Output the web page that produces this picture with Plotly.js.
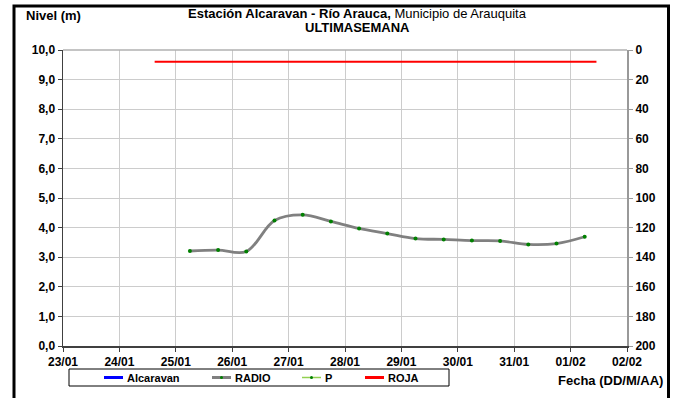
<!DOCTYPE html>
<html>
<head>
<meta charset="utf-8">
<script src="https://cdn.plot.ly/plotly-3.0.1.min.js"></script>
<style>html,body{margin:0;padding:0;background:#fff;}#chart{width:674px;height:398px;}</style>
</head>
<body>
<div id="chart"></div>
<script>
// Data
const fechasRadio = ['2024-01-25 06:00','2024-01-25 18:00','2024-01-26 06:00','2024-01-26 18:00','2024-01-27 06:00','2024-01-27 18:00','2024-01-28 06:00','2024-01-28 18:00','2024-01-29 06:00','2024-01-29 18:00','2024-01-30 06:00','2024-01-30 18:00','2024-01-31 06:00','2024-01-31 18:00','2024-02-01 06:00'];
const nivelRadio = [3.21,3.24,3.19,4.24,4.43,4.21,3.97,3.80,3.63,3.60,3.56,3.55,3.43,3.46,3.69];
const fechasRoja = ['2024-01-24 15:00','2024-02-01 11:00'];
const nivelRoja = [9.6,9.6];
const fechasAlcaravan = [null];
const nivelAlcaravan = [null];
const fechasP = [null];
const valoresP = [null];
const nombres = ['Alcaravan','RADIO','P','ROJA'];
const colores = ['#0000ff','#808080','#92d050','#ff0000'];

const FONT = 'Liberation Sans, Arial, sans-serif';
const L = 63, R = 47, T = 50, B = 52, W = 674, H = 398;
const pw = W - L - R, ph = H - T - B;
const px = v => (v - L) / pw;
const py = v => (H - B - v) / ph;

const traces = [
  {x: fechasAlcaravan, y: nivelAlcaravan, name: nombres[0], mode: 'lines', line: {color: colores[0], width: 3}, yaxis: 'y'},
  {x: fechasRadio, y: nivelRadio, name: nombres[1], mode: 'lines+markers', line: {color: colores[1], width: 2.8, shape: 'spline', smoothing: 1}, marker: {color: '#008000', size: 4}, yaxis: 'y'},
  {x: fechasP, y: valoresP, name: nombres[2], mode: 'lines+markers', line: {color: colores[2], width: 1.5}, marker: {color: '#008000', size: 4}, yaxis: 'y2'},
  {x: fechasRoja, y: nivelRoja, name: nombres[3], mode: 'lines', line: {color: colores[3], width: 2}, yaxis: 'y'}
];

// custom legend (box, symbols, labels)
const legShapes = [
  {type: 'rect', xref: 'paper', yref: 'paper', x0: px(69), x1: px(449), y0: py(369), y1: py(386), line: {color: '#000', width: 1}, fillcolor: '#fff'}
];
const legAnn = [];
const legX = [104, 212, 302, 365];
const legY = 377.5;
nombres.forEach((n, i) => {
  legShapes.push({type: 'line', xref: 'paper', yref: 'paper', x0: px(legX[i]), x1: px(legX[i] + 19), y0: py(legY), y1: py(legY),
    line: {color: colores[i], width: i === 2 ? 1.5 : 3}});
  if (i === 1 || i === 2) {
    legShapes.push({type: 'circle', xref: 'paper', yref: 'paper', x0: px(legX[i] + 8), x1: px(legX[i] + 11), y0: py(legY - 1.5), y1: py(legY + 1.5),
      line: {color: '#008000', width: 0}, fillcolor: '#008000'});
  }
  legAnn.push({xref: 'paper', yref: 'paper', x: px(legX[i] + 21), y: py(legY), xanchor: 'left', yanchor: 'middle', showarrow: false,
    text: '<b>' + n + '</b>', font: {family: FONT, size: 11, color: '#000'}});
});

const tickFont = {family: FONT, size: 12, color: '#000', weight: 'bold'};

const layout = {
  width: W, height: H,
  margin: {l: L, r: R, t: T, b: B, pad: 0, autoexpand: false},
  paper_bgcolor: '#fff', plot_bgcolor: '#fff',
  separators: ',.',
  font: {family: FONT, size: 12, color: '#000'},
  showlegend: false,
  xaxis: {type: 'date', range: ['2024-01-23', '2024-02-02'], dtick: 86400000, tick0: '2024-01-23',
    tickformat: '%d/%m', showgrid: true, gridcolor: '#cccccc', gridwidth: 1,
    showline: true, linecolor: '#404040', linewidth: 1.5, ticks: 'outside', ticklen: 4, tickcolor: '#404040',
    tickfont: tickFont, zeroline: false},
  yaxis: {range: [0, 10], dtick: 1, tickformat: '.1f', showgrid: true, gridcolor: '#cccccc',
    showline: true, linecolor: '#404040', linewidth: 1.5, ticks: 'outside', ticklen: 4, tickcolor: '#404040',
    tickfont: tickFont, zeroline: false},
  yaxis2: {overlaying: 'y', side: 'right', anchor: 'x', range: [200, 0], dtick: 20, showgrid: false,
    showline: true, linecolor: '#999999', linewidth: 2, ticks: 'outside', ticklen: 4, tickcolor: '#999999',
    tickfont: tickFont, zeroline: false},
  shapes: [
    {type: 'line', xref: 'paper', yref: 'paper', x0: 0, x1: 1, y0: 1, y1: 1, line: {color: '#b0b0b0', width: 1.5}},
    {type: 'rect', xref: 'paper', yref: 'paper', x0: px(14), x1: px(668.5), y0: py(6), y1: py(410), line: {color: '#000', width: 3}}
  ].concat(legShapes),
  annotations: [
    {xref: 'paper', yref: 'paper', x: px(357), y: py(13), xanchor: 'center', yanchor: 'middle', showarrow: false,
     text: '<b>Estación Alcaravan - Río Arauca,</b> Municipio de Arauquita', font: {family: FONT, size: 13, color: '#000'}},
    {xref: 'paper', yref: 'paper', x: px(357), y: py(28), xanchor: 'center', yanchor: 'middle', showarrow: false,
     text: '<b>ULTIMASEMANA</b>', font: {family: FONT, size: 13, color: '#000'}},
    {xref: 'paper', yref: 'paper', x: px(24), y: py(16), xanchor: 'left', yanchor: 'middle', showarrow: false,
     text: '<b>Nivel (m)</b>', font: {family: FONT, size: 13, color: '#000'}},
    {xref: 'paper', yref: 'paper', x: px(665), y: py(380), xanchor: 'right', yanchor: 'middle', showarrow: false,
     text: '<b>Fecha (DD/M/AA)</b>', font: {family: FONT, size: 13, color: '#000'}}
  ].concat(legAnn)
};

Plotly.newPlot('chart', traces, layout, {staticPlot: true, displayModeBar: false});
</script>
</body>
</html>
